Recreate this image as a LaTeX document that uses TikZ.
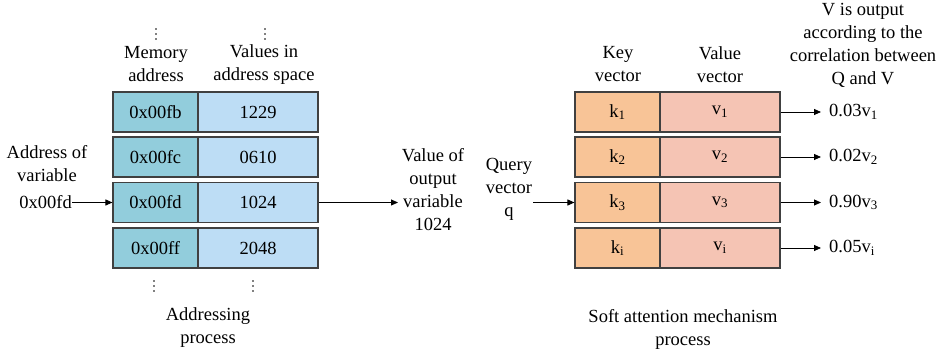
\documentclass[tikz,border=0pt]{standalone}
\usepackage{fontspec}
\setmainfont{Liberation Serif}
\newfontfamily\diagfont{Liberation Serif}
\usetikzlibrary{arrows.meta}
\definecolor{addrfill}{RGB}{146,205,220}
\definecolor{valfill}{RGB}{189,221,245}
\definecolor{keyfill}{RGB}{248,196,151}
\definecolor{vecfill}{RGB}{245,196,180}
\definecolor{edge}{RGB}{64,64,64}
\begin{document}
\begin{tikzpicture}[x=1pt,y=-1pt,
  every node/.style={font=\diagfont\fontsize{18.5}{23}\selectfont, inner sep=0pt},
  cell/.style={draw=edge, line width=1.1pt, minimum height=40pt},
  keycell/.style={cell, minimum width=85pt},
  valcell/.style={cell, minimum width=120pt},
  lbl/.style={align=center},
  arr/.style={line width=0.8pt, -{Triangle[length=7pt,width=6pt]}},
  dot/.style={fill=black, draw=none}
]
\useasboundingbox (0,0) rectangle (944,352);

% ---- addressing table ----
\foreach \n/\y/\a/\v in {1/112/0x00fb/1229, 2/157/0x00fc/0610, 3/202.5/0x00fd/1024, 4/248/0x00ff/2048}{
  \node[keycell, fill=addrfill] (a\n) at (155.5,\y) {\a};
  \node[valcell, fill=valfill] (m\n) at (258,\y) {\v};
}
\node[lbl] (memhdr) at (156,64.5) {Memory\\address};
\node[lbl] (valhdr) at (264,64.5) {Values in\\address space};

% ellipsis marks above and below the columns
\foreach \x/\y in {156/29, 265/29, 154/281, 253/281}{
  \foreach \d in {0,5,10}{ \fill[dot] (\x,\y+\d) circle (0.9); }
}

\node[lbl] (addrtxt) at (47,164) {Address of\\variable};
\node[anchor=east] (addrin) at (72,202.5) {0x00fd};
\draw[arr] (addrin.east) -- (a3.west);

\coordinate (outpt) at (398,202.5);
\draw[arr] (m3.east) -- (outpt);
\node[lbl] (outtxt) at (433,189.5) {Value of\\output\\variable\\1024};

\node[lbl] (addrcap) at (208,328) {Addressing\\process};

% ---- soft attention table ----
\foreach \n/\y/\s in {1/112/1, 2/157/2, 3/202.5/3, 4/248/i}{
  \node[keycell, fill=keyfill] (k\n) at (617.5,\y) {k\textsubscript{\s}};
  \node[valcell, fill=vecfill] (v\n) at (720,\y) {v\textsubscript{\s}};
}
\node[lbl] (keyhdr) at (618,64.5) {Key\\vector};
\node[lbl] (vechdr) at (720,64.5) {Value\\vector};

\node[lbl] (outhdr) at (863,45.5) {V is output\\according to the\\correlation between\\Q and V};

% weighted outputs
\foreach \n/\y/\w/\s in {1/112/0.03/1, 2/157/0.02/2, 3/202.5/0.90/3, 4/248/0.05/i}{
  \coordinate (e\n) at (821,\y);
  \node[anchor=west] (w\n) at (829,\y) {\w v\textsubscript{\s}};
  \draw[arr] (v\n.east) -- (e\n);
}

\node[lbl] (qtxt) at (509,189) {Query\\vector\\q};
\coordinate (qin) at (533,202.5);
\draw[arr] (qin) -- (k3.west);

\node[lbl] (attcap) at (683,329.5) {Soft attention mechanism\\process};
\end{tikzpicture}
\end{document}
